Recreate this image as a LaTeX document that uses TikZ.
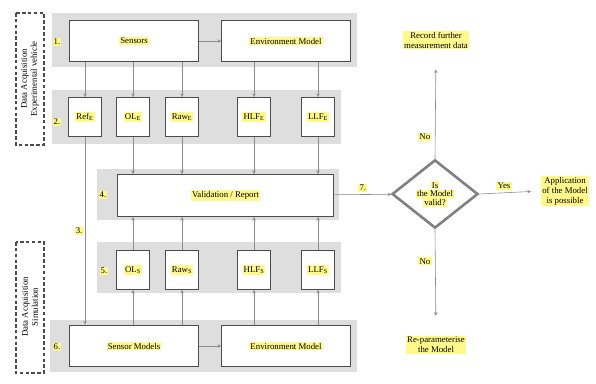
\documentclass[tikz,border=0pt]{standalone}
\usepackage{fontspec}
\setmainfont{Liberation Serif}
\usetikzlibrary{shapes.geometric,arrows.meta}

\newcommand{\hilite}[1]{{\setlength{\fboxsep}{1pt}\colorbox{yellow!45}{#1}}}

\tikzset{
  band/.style={fill=black!13},
  bigbox/.style={draw=black!70, line width=1.1pt, fill=white,
    minimum width=3.85cm, minimum height=1.25cm},
  smallbox/.style={draw=black!70, line width=1.1pt, fill=white,
    minimum width=0.98cm, minimum height=1.15cm, inner sep=1pt},
  numlabel/.style={fill=yellow!45, inner sep=1pt},
  note/.style={fill=yellow!45, inner sep=1pt, align=center},
  arr/.style={draw=black!45, line width=0.5pt, -{Stealth[length=3pt,width=3pt]}},
  dashbox/.style={draw=black!70, dash pattern=on 3pt off 2pt, line width=0.9pt}
}

\begin{document}
\begin{tikzpicture}[x=0.03cm, y=-0.03cm, font=\fontsize{7.5}{8.5}\selectfont]
  \useasboundingbox (0,0) rectangle (596,383);

  % grey bands
  \fill[band] (52,13) rectangle (357,67);
  \fill[band] (52,90) rectangle (341,144);
  \fill[band] (97,169) rectangle (339,220);
  \fill[band] (97,242) rectangle (341,293);
  \fill[band] (50,320) rectangle (357,372);

  % data acquisition frames
  \draw[dashbox] (16,13) rectangle (44,145);
  \node[rotate=90, align=center] (daqE) at (30,79)
    {Data Acquisition\\Experimental vehicle};
  \draw[dashbox] (16,242) rectangle (44,373);
  \node[rotate=90, align=center] (daqS) at (30,307)
    {Data Acquisition\\Simulation};

  % 1. measurement
  \node[numlabel] (n1) at (57,42) {1.};
  \node[bigbox] (sens) at (134,41) {\hilite{Sensors}};
  \node[bigbox] (envE) at (286,41) {\hilite{Environment Model}};

  % 2. experimental data
  \node[numlabel] (n2) at (57,122) {2.};
  \node[smallbox] (refE) at (85,117) {\hilite{Ref$_\mathrm{E}$}};
  \node[smallbox] (olE) at (133,117) {\hilite{OL$_\mathrm{E}$}};
  \node[smallbox] (rawE) at (182,117) {\hilite{Raw$_\mathrm{E}$}};
  \node[smallbox] (hlfE) at (254,117) {\hilite{HLF$_\mathrm{E}$}};
  \node[smallbox] (llfE) at (318,117) {\hilite{LLF$_\mathrm{E}$}};

  % 4. validation
  \node[numlabel] (n4) at (103,195) {4.};
  \node[bigbox, minimum width=6.5cm] (valid) at (225.5,195.5)
    {\hilite{Validation / Report}};

  % 5. simulated data
  \node[numlabel] (n5) at (104,271) {5.};
  \node[smallbox] (olS) at (133,270) {\hilite{OL$_\mathrm{S}$}};
  \node[smallbox] (rawS) at (182,270) {\hilite{Raw$_\mathrm{S}$}};
  \node[smallbox] (hlfS) at (254,270) {\hilite{HLF$_\mathrm{S}$}};
  \node[smallbox] (llfS) at (318,270) {\hilite{LLF$_\mathrm{S}$}};

  % 6. simulation
  \node[numlabel] (n6) at (57,347) {6.};
  \node[bigbox] (sensM) at (134,346) {\hilite{Sensor Models}};
  \node[bigbox] (envS) at (286,346) {\hilite{Environment Model}};

  % decision
  \node[diamond, draw=black!50, line width=2.2pt, fill=white, inner sep=0pt,
    minimum width=2.58cm, minimum height=2.05cm, align=center] (check) at (435,194)
    {\hilite{Is}\\[-1pt]\hilite{the Model}\\[-1pt]\hilite{valid?}};
  \node[note] (rec) at (436,40) {Record further\\measurement data};
  \node[note] (repar) at (436,345) {Re-parameterise\\the Model};
  \node[note] (appl) at (565,191) {Application\\of the Model\\is possible};

  % connectors
  \draw[arr] (sens) -- (envE);
  \draw[arr] (sensM) -- (envS);
  \draw[arr] (refE |- sens.south) -- (refE);
  \draw[arr] (olE |- sens.south) -- (olE);
  \draw[arr] (rawE |- sens.south) -- (rawE);
  \draw[arr] (hlfE |- envE.south) -- (hlfE);
  \draw[arr] (llfE |- envE.south) -- (llfE);

  \foreach \d in {olE, rawE, hlfE, llfE}
    \draw[arr] (\d) -- (\d |- valid.north);
  \foreach \d in {olS, rawS, hlfS, llfS}
    \draw[arr] (\d) -- (\d |- valid.south);
  \draw[arr] (olS |- sensM.north) -- (olS);
  \draw[arr] (rawS |- sensM.north) -- (rawS);
  \draw[arr] (hlfS |- envS.north) -- (hlfS);
  \draw[arr] (llfS |- envS.north) -- (llfS);

  \draw[arr] (refE) -- (refE |- sensM.north)
    node[numlabel, pos=0.5, left=1pt] (n3) {3.};

  \draw[arr] (valid) -- (check)
    node[numlabel, midway, above=2pt] (n7) {7.};
  \draw[arr, shorten >=0.6cm] (check.north) -- (rec.south)
    node[numlabel, pos=0.2, left=3pt] (noUp) {No};
  \draw[arr, shorten >=0.6cm] (check.south) -- (repar.north)
    node[numlabel, pos=0.3, left=3pt] (noDown) {No};
  \draw[arr, shorten >=0.3cm] (check.east) -- (appl.west)
    node[numlabel, pos=0.4, above=2pt] (yes) {Yes};
\end{tikzpicture}
\end{document}
